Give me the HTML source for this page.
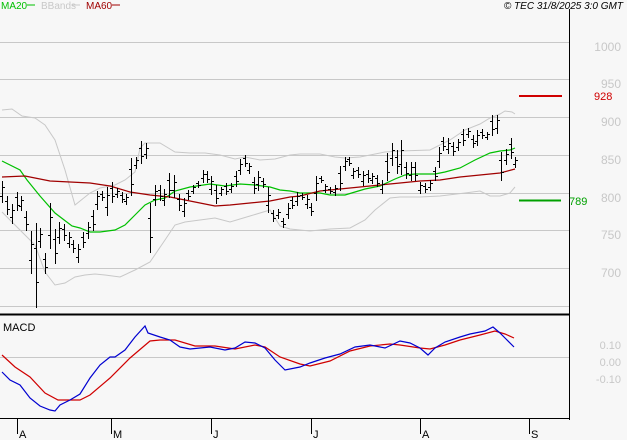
<!DOCTYPE html>
<html><head><meta charset="utf-8"><style>
html,body{margin:0;padding:0;background:#f7f7f7;}
svg{display:block;font-family:"Liberation Sans",sans-serif;}
</style></head><body>
<svg width="627" height="440" viewBox="0 0 627 440" xmlns="http://www.w3.org/2000/svg">
<rect width="627" height="440" fill="#f7f7f7"/>
<g stroke="#c8c8c8" stroke-width="1" shape-rendering="crispEdges">
<line x1="0" y1="42.5" x2="569" y2="42.5"/>
<line x1="0" y1="79.5" x2="569" y2="79.5"/>
<line x1="0" y1="117.5" x2="569" y2="117.5"/>
<line x1="0" y1="155.5" x2="569" y2="155.5"/>
<line x1="0" y1="193.5" x2="569" y2="193.5"/>
<line x1="0" y1="230.5" x2="569" y2="230.5"/>
<line x1="0" y1="268.5" x2="569" y2="268.5"/>
<line x1="0" y1="306.5" x2="569" y2="306.5"/>
<line x1="0" y1="357.5" x2="569" y2="357.5"/>
</g>
<g fill="#c8c8c8" font-size="12" text-anchor="end">
<text x="621" y="51">1000</text>
<text x="621" y="88">950</text>
<text x="621" y="126">900</text>
<text x="621" y="164">850</text>
<text x="621" y="202">800</text>
<text x="621" y="239">750</text>
<text x="621" y="277">700</text>
<text x="621" y="349" font-size="11">0.10</text>
<text x="621" y="366" font-size="11">0.00</text>
<text x="621" y="383" font-size="11">-0.10</text>
</g>
<g stroke="#000" shape-rendering="crispEdges">
<line x1="569.5" y1="9" x2="569.5" y2="420" stroke-width="1"/>
<line x1="0" y1="314.5" x2="570" y2="314.5" stroke-width="2"/>
<line x1="0" y1="418.5" x2="570" y2="418.5" stroke-width="1"/>
<line x1="17.5" y1="419" x2="17.5" y2="434"/>
<line x1="111.5" y1="419" x2="111.5" y2="434"/>
<line x1="211.5" y1="419" x2="211.5" y2="434"/>
<line x1="311.5" y1="419" x2="311.5" y2="434"/>
<line x1="420.5" y1="419" x2="420.5" y2="434"/>
<line x1="529.5" y1="419" x2="529.5" y2="434"/>
</g>
<g font-size="11" fill="#000">
<text x="19" y="438">A</text><text x="113" y="438">M</text><text x="213" y="438">J</text>
<text x="313" y="438">J</text><text x="422" y="438">A</text><text x="531" y="438">S</text>
<text x="3" y="331">MACD</text>
<text x="623" y="9" text-anchor="end" font-style="italic" font-size="10">© TEC 31/8/2025 3:0 GMT</text>
</g>
<g font-size="10">
<text x="1" y="9" fill="#00c000">MA20</text><line x1="27" y1="5" x2="35" y2="5" stroke="#00c000"/>
<text x="41" y="9" fill="#c8c8c8">BBands</text><line x1="72" y1="5" x2="80" y2="5" stroke="#c8c8c8"/>
<text x="86" y="9" fill="#a00000">MA60</text><line x1="112" y1="5" x2="120" y2="5" stroke="#a00000"/>
</g>
<line x1="519" y1="96" x2="562" y2="96" stroke="#d00000" stroke-width="2"/>
<text x="594" y="100" fill="#d00000" font-size="11">928</text>
<line x1="519" y1="200.5" x2="561" y2="200.5" stroke="#00a000" stroke-width="2"/>
<text x="569" y="205" fill="#00a000" font-size="11">789</text>
<g fill="none" stroke="#c8c8c8" stroke-width="1">
<polyline points="2,110 12,109 22,116 35,118 45,125 55,140 65,170 75,205 90,193 100,188 115,185 125,180 135,172 140,148 145,143 160,143 175,152 190,153 205,153 220,155 235,159 245,157 260,160 275,159 290,155 300,154 320,154 335,157 345,158 360,157 385,152 400,151 430,150 450,140 465,130 480,124 490,118 500,114 505,111 512,112 515,114"/>
<polyline points="2,212 20,230 35,245 45,272 55,285 65,283 75,277 85,275 95,274 105,275 120,277 135,270 150,262 165,240 175,225 185,222 200,220 215,218 230,222 250,216 260,213 270,210 280,226 290,229 300,230 310,231 330,229 350,228 365,220 375,210 390,198 400,197 420,197 440,196 465,193 480,191 490,196 500,196 510,193 515,187"/>
</g>
<polyline fill="none" stroke="#00c000" stroke-width="1.2" points="2,161 20,170 27,180 40,196 55,213 72,226 80,228 90,232 100,232 115,230 125,225 135,215 145,205 155,200 165,198 175,191 190,187 210,184 225,186 240,184 255,185 270,187 280,190 290,191 300,193 320,193 330,195 345,195 355,192 365,189 380,186 395,179 405,175 415,174 435,174 445,172 460,168 475,160 490,153 500,151 510,150 515,148"/>
<polyline fill="none" stroke="#a00000" stroke-width="1.2" points="2,177 25,176 35,178 50,181 70,182 90,183 110,186 130,192 150,195 170,197 185,200 200,203 215,206 230,205 250,203 270,201 290,197 300,196 320,191 340,189 360,187 380,185 400,183 420,181 440,180 460,177 480,175 500,173 515,169"/>
<path stroke="#000" stroke-width="1" fill="none" shape-rendering="crispEdges" d="
M2.5 181V203M0 196.5H2.5M2.5 187.5H5
M7.5 196V215M5 201.5H7.5M7.5 209.5H10
M12.5 204V224M10 217.5H12.5M12.5 210.5H15
M17.5 192V211M15 197.5H17.5M17.5 205.5H20
M21.5 196V211M19 206.5H21.5M21.5 200.5H24
M26.5 211V231M24 217.5H26.5M26.5 224.5H29
M31.5 231V274M29 260.5H31.5M31.5 244.5H34
M36.5 223V308M34 248.5H36.5M36.5 282.5H39
M40.5 228V248M38 241.5H40.5M40.5 234.5H43
M45.5 253V274M43 259.5H45.5M45.5 267.5H48
M50.5 203V249M48 235.5H50.5M50.5 217.5H53
M55.5 229V264M53 239.5H55.5M55.5 253.5H58
M59.5 222V244M57 237.5H59.5M59.5 228.5H62
M64.5 224V241M62 229.5H64.5M64.5 235.5H67
M69.5 232V248M67 243.5H69.5M69.5 237.5H72
M73.5 240V253M71 244.5H73.5M73.5 248.5H76
M78.5 244V263M76 257.5H78.5M78.5 249.5H81
M83.5 232V248M81 237.5H83.5M83.5 242.5H86
M88.5 222V239M86 233.5H88.5M88.5 227.5H91
M93.5 210V231M91 216.5H93.5M93.5 224.5H96
M97.5 191V210M95 204.5H97.5M97.5 196.5H100
M102.5 191V201M100 194.5H102.5M102.5 197.5H105
M107.5 187V216M105 207.5H107.5M107.5 195.5H110
M112.5 182V203M110 188.5H112.5M112.5 196.5H115
M117.5 188V198M115 194.5H117.5M117.5 191.5H120
M122.5 192V203M120 195.5H122.5M122.5 199.5H125
M126.5 194V205M124 201.5H126.5M126.5 197.5H129
M131.5 158V196M129 169.5H131.5M131.5 184.5H134
M136.5 157V169M134 165.5H136.5M136.5 160.5H139
M141.5 141V164M139 148.5H141.5M141.5 156.5H144
M146.5 143V159M144 154.5H146.5M146.5 148.5H149
M150.5 203V253M148 218.5H150.5M150.5 237.5H153
M155.5 185V206M153 199.5H155.5M155.5 191.5H158
M160.5 185V201M158 190.5H160.5M160.5 196.5H163
M164.5 189V206M162 200.5H164.5M164.5 194.5H167
M169.5 173V198M167 180.5H169.5M169.5 190.5H172
M174.5 175V198M172 190.5H174.5M174.5 182.5H177
M179.5 194V211M177 199.5H179.5M179.5 205.5H182
M184.5 198V217M182 211.5H184.5M184.5 203.5H187
M188.5 190V200M186 193.5H188.5M188.5 196.5H191
M193.5 185V194M191 191.5H193.5M193.5 187.5H196
M198.5 181V188M196 183.5H198.5M198.5 185.5H201
M203.5 170V183M201 178.5H203.5M203.5 174.5H206
M207.5 171V183M205 174.5H207.5M207.5 179.5H210
M211.5 176V195M209 189.5H211.5M211.5 181.5H214
M216.5 185V204M214 190.5H216.5M216.5 198.5H219
M221.5 187V196M219 193.5H221.5M221.5 189.5H224
M226.5 183V195M224 186.5H226.5M226.5 191.5H229
M231.5 183V193M229 189.5H231.5M231.5 186.5H234
M236.5 171V187M234 176.5H236.5M236.5 181.5H239
M240.5 159V175M238 170.5H240.5M240.5 164.5H243
M245.5 155V167M243 158.5H245.5M245.5 163.5H248
M249.5 163V174M247 170.5H249.5M249.5 166.5H252
M254.5 177V194M252 182.5H254.5M254.5 188.5H257
M258.5 171V191M256 184.5H258.5M258.5 177.5H261
M263.5 178V188M261 181.5H263.5M263.5 184.5H266
M268.5 187V213M266 205.5H268.5M268.5 195.5H271
M273.5 210V222M271 213.5H273.5M273.5 218.5H276
M278.5 209V219M276 215.5H278.5M278.5 212.5H281
M283.5 218V228M281 221.5H283.5M283.5 224.5H286
M288.5 203V219M286 214.5H288.5M288.5 208.5H291
M292.5 197V209M290 200.5H292.5M292.5 205.5H295
M297.5 192V206M295 201.5H297.5M297.5 196.5H300
M302.5 193V200M300 195.5H302.5M302.5 197.5H305
M307.5 195V209M305 204.5H307.5M307.5 199.5H310
M311.5 203V216M309 207.5H311.5M311.5 211.5H314
M316.5 176V201M314 193.5H316.5M316.5 183.5H319
M321.5 176V183M319 178.5H321.5M321.5 180.5H324
M325.5 184V193M323 190.5H325.5M325.5 186.5H328
M330.5 187V194M328 189.5H330.5M330.5 191.5H333
M335.5 185V196M333 192.5H335.5M335.5 188.5H338
M340.5 166V191M338 173.5H340.5M340.5 183.5H343
M345.5 157V171M343 166.5H345.5M345.5 161.5H348
M349.5 157V166M347 159.5H349.5M349.5 163.5H352
M353.5 168V179M351 175.5H353.5M353.5 171.5H356
M358.5 167V178M356 170.5H358.5M358.5 174.5H361
M363.5 171V186M361 181.5H363.5M363.5 175.5H366
M368.5 170V183M366 174.5H368.5M368.5 178.5H371
M372.5 173V184M370 180.5H372.5M372.5 176.5H375
M377.5 175V187M375 178.5H377.5M377.5 183.5H380
M382.5 180V194M380 189.5H382.5M382.5 184.5H385
M387.5 153V181M385 161.5H387.5M387.5 172.5H390
M392.5 143V166M390 158.5H392.5M392.5 150.5H395
M397.5 150V174M395 157.5H397.5M397.5 166.5H400
M401.5 140V175M399 164.5H401.5M401.5 150.5H404
M406.5 162V179M404 167.5H406.5M406.5 173.5H409
M411.5 162V181M409 175.5H411.5M411.5 167.5H414
M415.5 162V181M413 167.5H415.5M415.5 175.5H418
M420.5 182V194M418 190.5H420.5M420.5 185.5H423
M425.5 183V193M423 186.5H425.5M425.5 189.5H428
M430.5 180V191M428 187.5H430.5M430.5 183.5H433
M435.5 167V181M433 171.5H435.5M435.5 176.5H438
M439.5 147V168M437 161.5H439.5M439.5 153.5H442
M443.5 137V151M441 141.5H443.5M443.5 146.5H446
M448.5 138V154M446 149.5H448.5M448.5 143.5H451
M453.5 142V156M451 146.5H453.5M453.5 151.5H456
M458.5 139V151M456 147.5H458.5M458.5 142.5H461
M463.5 129V146M461 134.5H463.5M463.5 140.5H466
M468.5 128V138M466 134.5H468.5M468.5 131.5H471
M473.5 135V148M471 139.5H473.5M473.5 143.5H476
M477.5 130V146M475 141.5H477.5M477.5 135.5H480
M482.5 129V139M480 132.5H482.5M482.5 135.5H485
M487.5 132V140M485 137.5H487.5M487.5 134.5H490
M492.5 115V136M490 121.5H492.5M492.5 129.5H495
M497.5 115V134M495 128.5H497.5M497.5 120.5H500
M501.5 152V181M499 160.5H501.5M501.5 172.5H504
M506.5 149V165M504 160.5H506.5M506.5 154.5H509
M511.5 138V159M509 144.5H511.5M511.5 152.5H514
M515.5 157V168M513 164.5H515.5M515.5 160.5H518"/>
<polyline fill="none" stroke="#d00000" stroke-width="1.2" points="2,355 15,367 30,377 45,393 58,400 80,400 90,395 110,378 130,358 150,341 160,340 175,340 195,346 215,346 235,349 255,345 265,347 280,357 300,364 310,366 330,361 350,351 370,346 390,344 400,345 420,348 430,349 445,345 460,340 480,335 495,331 505,334 514,338"/>
<polyline fill="none" stroke="#0000d0" stroke-width="1.2" points="2,372 10,380 20,385 30,398 40,406 50,410 55,411 60,405 70,400 80,394 90,378 100,365 110,357 115,357 125,350 135,337 145,326 148,333 160,337 170,340 180,347 190,349 210,347 225,350 235,348 245,342 255,343 265,348 275,360 285,370 300,367 310,363 325,358 340,354 355,347 370,345 385,348 400,341 410,343 420,348 428,355 435,348 445,342 460,337 470,334 485,331 493,327 500,333 505,338 514,347"/>
</svg>
</body></html>
